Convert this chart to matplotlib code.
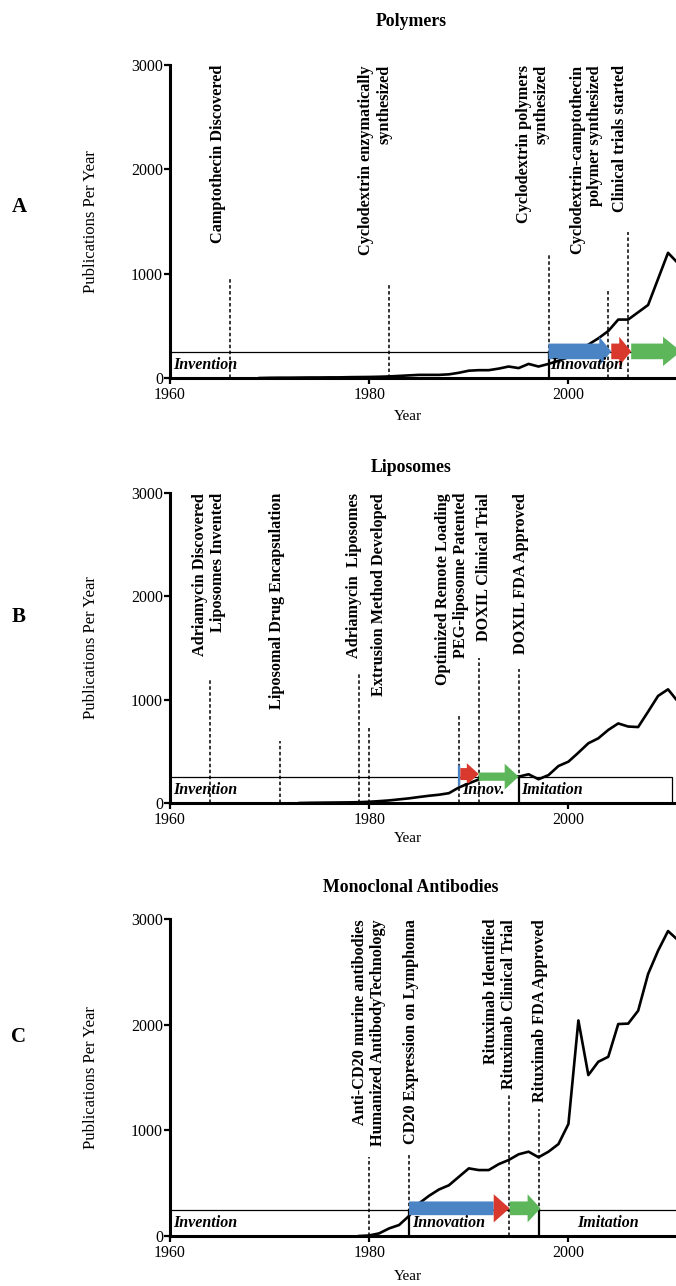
import matplotlib
matplotlib.use("Agg")
import matplotlib.pyplot as plt
from matplotlib.patches import Rectangle, FancyArrow

# ---------------- data ----------------
poly_years = list(range(1969, 2012))
poly_counts = [0, 2, 3, 3, 4, 5, 5, 6, 6, 8, 9, 10, 12, 15, 20, 25, 30, 30, 30, 35, 50,
               70, 75, 75, 90, 110, 95, 135, 110, 135, 165,
               200, 250, 320, 380, 450, 560, 560, 630, 700, 950, 1200, 1100]
poly_event_years = [1966, 1982, 1998, 2004, 2006]
poly_event_tops = [950, 900, 1200, 850, 1400]
poly_event_labels = ["Camptothecin Discovered",
                     "Cyclodextrin enzymatically\nsynthesized",
                     "Cyclodextrin polymers\nsynthesized",
                     "Cyclodextrin-camptothecin\npolymer synthesized",
                     "Clinical trials started"]

lipo_years = list(range(1973, 2012))
lipo_counts = [0, 2, 3, 4, 5, 6, 8, 12, 18, 25, 35, 45, 58, 70, 80, 95,
               150, 190, 228, 248, 262, 270, 255, 278, 230, 270, 358,
               400, 487, 578, 626, 707, 770, 740, 735, 884, 1036, 1100, 980]
lipo_event_years = [1964, 1971, 1979, 1980, 1989, 1991, 1995]
lipo_event_tops = [1200, 600, 1250, 750, 850, 1400, 1300]
lipo_event_labels = ["Adriamycin Discovered\nLiposomes Invented",
                     "Liposomal Drug Encapsulation",
                     "Adriamycin  Liposomes",
                     "Extrusion Method Developed",
                     "Optimized Remote Loading\nPEG-liposome Patented",
                     "DOXIL Clinical Trial",
                     "DOXIL FDA Approved"]

mab_years = list(range(1979, 2012))
mab_counts = [0, 5, 25, 72, 104, 190, 309, 380, 440, 480, 560, 640, 624, 624, 680, 719,
              773, 798, 745, 798, 870, 1060, 2040, 1523, 1649, 1696, 2006, 2010, 2132,
              2480, 2700, 2886, 2800]
mab_event_years = [1980, 1984, 1994, 1997]
mab_event_tops = [750, 780, 1350, 1200]
mab_event_labels = ["Anti-CD20 murine antibodies\nHumanized AntibodyTechnology",
                    "CD20 Expression on Lymphoma",
                    "Rituximab Identified\nRituximab Clinical Trial",
                    "Rituximab FDA Approved"]

panel_titles = ["Polymers", "Liposomes", "Monoclonal Antibodies"]
panel_letters = ["A", "B", "C"]
phase_names = ["Invention", "Innovation", "Innov.", "Imitation"]

# ---------------- layout ----------------
W, H = 676, 1286
BLUE, RED, GREEN = "#4A84C4", "#D9392C", "#5DB65A"
plt.rcParams["font.family"] = ["Liberation Serif", "DejaVu Serif"]


def fx(px):
    return px / W


def fy(py):
    return 1 - py / H


def draw_arrow(ax, x0, x1, y, body, head, head_len, color):
    ax.add_patch(FancyArrow(x0, y, x1 - x0, 0, width=body, head_width=head,
                            head_length=head_len, length_includes_head=True,
                            color=color, lw=0, zorder=4, clip_on=True))


def draw_panel(p):
    ax = fig.add_axes([fx(170), fy(p["bottom"]), fx(676 - 170), (p["bottom"] - p["top"]) / H])
    ax.set_xlim(1960, 2010.8)
    ax.set_ylim(0, 3000)
    for s in ["top", "right"]:
        ax.spines[s].set_visible(False)
    for s in ["left", "bottom"]:
        ax.spines[s].set_linewidth(2.2)
        ax.spines[s].set_zorder(6)
    ax.set_xticks([1960, 1980, 2000])
    ax.set_yticks([0, 1000, 2000, 3000])
    ax.tick_params(direction="out", length=4, width=1.6, labelsize=11.5)
    ax.tick_params(axis="x", pad=2.5)
    ax.tick_params(axis="y", pad=1)

    # phase box
    ax.add_patch(Rectangle((1960, 0), p["box_end"] - 1960, 250, fill=False,
                           lw=0.9, ec="black", zorder=2, clip_on=False))
    for d in p["dividers"]:
        ax.plot([d, d], [0, 250], color="black", lw=1.6, zorder=3)
    for name, x, ha in p["phases"]:
        ax.text(x, 125, name, ha=ha, va="center", fontsize=11.5,
                fontweight="bold", fontstyle="italic", zorder=7)

    # events
    for yr, top, lab, tx in zip(p["ev_years"], p["ev_tops"], p["ev_labels"], p["label_x"]):
        ax.plot([yr, yr], [0, top], color="black", lw=1.1,
                linestyle=(0, (2.3, 1.6)), zorder=3)
        ax.text(tx, 3000, lab, rotation=90, ha="center", va="top",
                multialignment="right", fontsize=11.7, fontweight="bold",
                linespacing=1.15, clip_on=False)

    ax.plot(p["years"], p["counts"], color="black", lw=1.9, zorder=3.5,
            solid_joinstyle="round")

    for a in p["arrows"]:
        draw_arrow(ax, *a)

    fig.text(fx(411), fy(p["title_y"]), p["title"], ha="center", va="center",
             fontsize=12.8, fontweight="bold")
    fig.text(fx(408), fy(p["xlabel_y"]), "Year", ha="center", va="center", fontsize=11)
    fig.text(fx(91), fy((p["top"] + p["bottom"]) / 2), "Publications Per Year",
             rotation=90, ha="center", va="center", fontsize=12)
    fig.text(fx(19), fy(p["letter_y"]), p["letter"], ha="center", va="center",
             fontsize=15, fontweight="bold")


fig = plt.figure(figsize=(W / 100, H / 100), dpi=100)

panels = [
    dict(title=panel_titles[0], letter=panel_letters[0], top=65, bottom=378,
         title_y=22, xlabel_y=417, letter_y=207,
         years=poly_years, counts=poly_counts,
         ev_years=poly_event_years, ev_tops=poly_event_tops, ev_labels=poly_event_labels,
         label_x=[1964.8, 1980.6, 1996.4, 2001.8, 2005.2],
         box_end=2015, dividers=[poly_event_years[2]],
         phases=[(phase_names[0], 1960.3, "left"), (phase_names[1], 1998.2, "left")],
         arrows=[(1998, 2004.3, 255, 150, 280, 1.2, BLUE),
                 (2004.3, 2006.3, 255, 150, 280, 1.2, RED),
                 (2006.3, 2011.3, 255, 150, 280, 1.8, GREEN)]),
    dict(title=panel_titles[1], letter=panel_letters[1], top=493, bottom=803,
         title_y=467, xlabel_y=838, letter_y=617,
         years=lipo_years, counts=lipo_counts,
         ev_years=lipo_event_years, ev_tops=lipo_event_tops, ev_labels=lipo_event_labels,
         label_x=[1963.9, 1970.7, 1978.5, 1981.0, 1988.3, 1991.5, 1995.2],
         box_end=2010.4, dividers=[lipo_event_years[6]],
         phases=[(phase_names[0], 1960.3, "left"), (phase_names[2], 1989.3, "left"),
                 (phase_names[3], 1995.3, "left")],
         arrows=[(1988.9, 1989.15, 265, 200, 200, 0.01, BLUE),
                 (1989.15, 1991, 280, 116, 210, 1.2, RED),
                 (1991, 1995, 255, 80, 250, 1.4, GREEN)]),
    dict(title=panel_titles[2], letter=panel_letters[2], top=919, bottom=1236,
         title_y=887, xlabel_y=1277, letter_y=1037,
         years=mab_years, counts=mab_counts,
         ev_years=mab_event_years, ev_tops=mab_event_tops, ev_labels=mab_event_labels,
         label_x=[1980.0, 1984.2, 1993.1, 1997.1],
         box_end=2015, dividers=[mab_event_years[1], mab_event_years[3]],
         phases=[(phase_names[0], 1960.3, "left"), (phase_names[1], 1984.3, "left"),
                 (phase_names[3], 2004.0, "center")],
         arrows=[(1984, 1992.5, 262, 130, 130, 0.01, BLUE),
                 (1992.5, 1994.1, 262, 130, 266, 1.6, RED),
                 (1994.1, 1997.2, 262, 130, 266, 1.3, GREEN)]),
]

for p in panels:
    draw_panel(p)

fig.savefig("out.png", dpi=100)
